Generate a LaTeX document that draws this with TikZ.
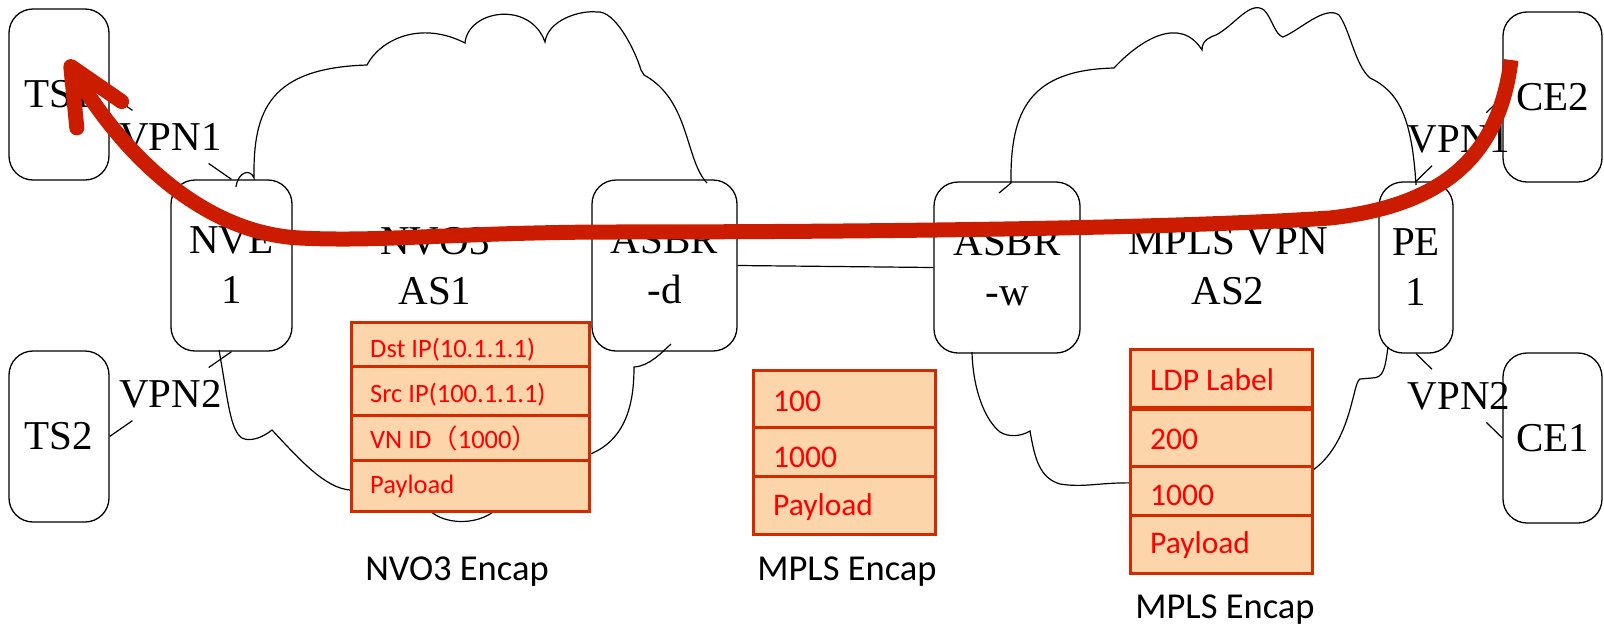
\documentclass[tikz,border=0pt]{standalone}
\usepackage{fontspec}
\setmainfont{Liberation Serif}
\newfontfamily\calfont{Carlito}
\newfontfamily\cjkfont{Noto Sans CJK SC}
\usetikzlibrary{arrows.meta}
\definecolor{flow}{RGB}{204,28,0}
\definecolor{cellfill}{RGB}{252,213,170}
\definecolor{cellline}{RGB}{212,42,0}
\definecolor{celltext}{RGB}{255,0,0}
\tikzset{
  dev/.style={draw, line width=1.3pt, fill=white, rounded corners=24pt,
    minimum width=#1, minimum height=171pt, inner sep=0pt, align=center,
    font=\fontsize{41}{50}\selectfont},
  area/.style={align=center, inner sep=0pt, font=\fontsize{41}{50}\selectfont},
  vpn/.style={inner xsep=3pt, inner ysep=12.5pt, font=\fontsize{41}{50}\selectfont},
  thinline/.style={draw, line width=1.2pt},
  cloudline/.style={draw, line width=1.2pt},
  cell/.style={draw=cellline, fill=cellfill, line width=2.5pt, anchor=north west,
    minimum width=#1, inner sep=0pt},
  ctext/.style={text=celltext, anchor=base west, inner sep=0pt},
  caption/.style={anchor=base, inner sep=0pt, font=\calfont\fontsize{36.5}{40}\selectfont},
  flowline/.style={draw=flow, line width=15pt, line cap=butt,
    -{Straight Barb[length=56pt, width=52pt, round]}}
}
\begin{document}
\begin{tikzpicture}[x=1pt, y=-1pt]
\useasboundingbox (0,0) rectangle (1604,627);

% devices
\node[dev=100pt] (TS1) at (59,94.5) {TS1};
\node[dev=100pt] (TS2) at (59,436.5) {TS2};
\node[dev=121pt] (NVE1) at (231.5,265.5) {NVE\\1};
\node[dev=145pt] (ASBRd) at (664.5,265.5) {ASBR\\-d};
\node[dev=146pt] (ASBRw) at (1007,267.5) {ASBR\\-w};
\node[dev=74pt] (PE1) at (1416,267.5) {PE\\1};
\node[dev=99pt, minimum height=170pt] (CE2) at (1552.5,97) {CE2};
\node[dev=99pt, minimum height=170pt] (CE1) at (1552.5,438) {CE1};

% area names
\node[area] (as1) at (435,266) {NVO3\\AS1};
\node[area] (as2) at (1228,266) {MPLS VPN\\AS2};

% inter-AS link
\draw[thinline] (ASBRd.east) -- (ASBRw.west);

% VPN attachment lines
\path (TS1.east) -- node[vpn] (v1l) {VPN1} (NVE1.north);
\draw[thinline] (TS1.east) -- (v1l);
\draw[thinline] (v1l) -- (NVE1.north);
\path (TS2.east) -- node[vpn] (v2l) {VPN2} (NVE1.south);
\draw[thinline] (TS2.east) -- (v2l);
\draw[thinline] (v2l) -- (NVE1.south);
\path (PE1.north) -- node[vpn] (v1r) {VPN1} (CE2.west);
\draw[thinline] (PE1.north) -- (v1r);
\draw[thinline] (v1r) -- (CE2.west);
\path (PE1.south) -- node[vpn] (v2r) {VPN2} (CE1.west);
\draw[thinline] (PE1.south) -- (v2r);
\draw[thinline] (v2r) -- (CE1.west);

% left cloud
\draw[cloudline] (236,187) .. controls (238,172) and (250,168) .. (254,178)
  .. controls (253,110) and (270,68) .. (367,65)
  .. controls (380,40) and (420,20) .. (465,43)
  .. controls (468,10) and (530,0) .. (545,42)
  .. controls (548,20) and (580,10) .. (597,12)
  .. controls (615,10) and (635,50) .. (641,70) -- (644,75)
  .. controls (690,100) and (685,160) .. (707,183);
\draw[cloudline] (671,344) .. controls (662,352) and (650,366) .. (634,367)
  .. controls (634,400) and (628,442) .. (585,456) -- (500,505)
  .. controls (485,526) and (440,528) .. (425,505) -- (350,490)
  .. controls (325,488) and (300,460) .. (272,430)
  .. controls (262,438) and (250,442) .. (242,438)
  .. controls (230,430) and (228,400) .. (219,350);

% right cloud
\draw[cloudline] (999,193) -- (1011,183)
  .. controls (1010,110) and (1030,70) .. (1114,68)
  .. controls (1140,40) and (1180,15) .. (1202,50)
  .. controls (1202,40) and (1210,37) .. (1216,35)
  .. controls (1235,25) and (1250,0) .. (1264,10)
  .. controls (1272,18) and (1275,35) .. (1283,37)
  .. controls (1300,30) and (1325,5) .. (1339,15)
  .. controls (1350,30) and (1355,65) .. (1370,78)
  .. controls (1400,92) and (1412,120) .. (1416,185);
\draw[cloudline] (1388,347) .. controls (1385,368) and (1384,378) .. (1372,378) -- (1360,379)
  .. controls (1352,382) and (1352,450) .. (1305,475) -- (1135,483)
  .. controls (1100,482) and (1085,488) .. (1060,484)
  .. controls (1040,478) and (1035,460) .. (1030,431)
  .. controls (1020,437) and (1008,437) .. (1000,432)
  .. controls (985,420) and (973,390) .. (972,352);

% NVO3 encapsulation
\node[cell=238pt, minimum height=44pt] (n1) at (350,321) {};
\node[cell=238pt, minimum height=49pt] (n2) at (350,365) {};
\node[cell=238pt, minimum height=45pt] (n3) at (350,414) {};
\node[cell=238pt, minimum height=51pt] (n4) at (350,459) {};
\begin{scope}[every node/.append style={font=\calfont\fontsize{26.5}{30}\selectfont}]
\node[ctext] (n1t) at (370,357) {Dst IP(10.1.1.1)};
\node[ctext] (n2t) at (370,402) {Src IP(100.1.1.1)};
\node[ctext] (n3t) at (370,448) {VN ID{\cjkfont （}1000{\cjkfont ）}};
\node[ctext] (n4t) at (370,493) {Payload};
\end{scope}
\node[caption] (capn) at (457,580) {NVO3 Encap};

% middle MPLS encapsulation
\node[cell=182pt, minimum height=57pt] (m1) at (752,369) {};
\node[cell=182pt, minimum height=49pt] (m2) at (752,426) {};
\node[cell=182pt, minimum height=58pt] (m3) at (752,475) {};
\begin{scope}[every node/.append style={font=\calfont\fontsize{31.5}{36}\selectfont}]
\node[ctext] (m1t) at (773,411) {100};
\node[ctext] (m2t) at (773,467) {1000};
\node[ctext] (m3t) at (773,515) {Payload};
\end{scope}
\node[caption] (capm) at (847,580) {MPLS Encap};

% right MPLS encapsulation
\node[cell=182pt, minimum height=58pt] (r1) at (1129,348) {};
\node[cell=182pt, minimum height=57pt] (r2) at (1129,408) {};
\node[cell=182pt, minimum height=49pt] (r3) at (1129,465) {};
\node[cell=182pt, minimum height=58pt] (r4) at (1129,514) {};
\begin{scope}[every node/.append style={font=\calfont\fontsize{31.5}{36}\selectfont}]
\node[ctext] (r1t) at (1150,390) {LDP Label};
\node[ctext] (r2t) at (1150,449) {200};
\node[ctext] (r3t) at (1150,505) {1000};
\node[ctext] (r4t) at (1150,553) {Payload};
\end{scope}
\node[caption] (capr) at (1225,618) {MPLS Encap};

% traffic flow
\coordinate (fromCE) at (1511,60);
\coordinate (toTS) at (67,60);
\draw[flowline] (fromCE) .. controls (1500,150) and (1450,205) .. (1330,218)
  .. controls (1150,230) and (800,232) .. (600,232)
  .. controls (450,233) and (380,242) .. (300,238)
  .. controls (200,233) and (120,150) .. (toTS);
\end{tikzpicture}
\end{document}
